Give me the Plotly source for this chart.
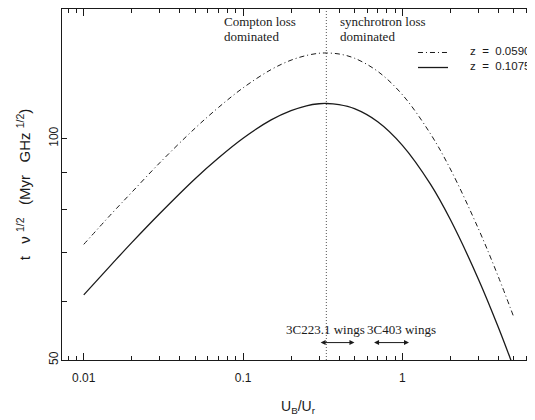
import numpy as np
import plotly.graph_objects as go

# ---- data ----
u_ratio = [0.01, 0.015, 0.02, 0.03, 0.05, 0.07, 0.1, 0.15, 0.2, 0.25, 0.3, 0.333,
           0.4, 0.5, 0.7, 1.0, 1.5, 2.0, 3.0, 4.0, 5.0]
t_z0590 = [71.8, 79.1, 84.5, 92.7, 103.3, 110.2, 117.2, 124.1, 127.8, 129.7, 130.6, 130.7,
           130.3, 128.6, 123.4, 114.7, 101.5, 90.9, 75.4, 64.9, 57.2]
t_z1075 = [61.3, 67.5, 72.2, 79.1, 88.2, 94.1, 100.1, 106.0, 109.1, 110.8, 111.5, 111.6,
           111.2, 109.8, 105.4, 97.9, 86.7, 77.6, 64.4, 55.4, 48.8]
series_names = ["z\u00a0 =\u00a0 0.0590", "z\u00a0 =\u00a0 0.1075"]
series_dash = ["5px,3px,1px,3px", "solid"]
series_width = [1.0, 1.3]

crossover = 1.0 / 3.0                  # U_B/U_r where the loss regimes swap
regime_lines = [["Compton loss", "dominated"], ["synchrotron loss", "dominated"]]
regime_text_x = [0.0733, 0.394]
wing_names = ["3C223.1 wings", "3C403 wings"]
wing_lo = [0.30, 0.65]
wing_hi = [0.50, 1.10]
wing_level = 52.8
wing_text_x = [0.327, 0.98]
wing_text_level = 55.0

x_range = [0.0073, 6.7]
y_range = [50, 150]
x_tickvals = [0.01, 0.1, 1]
x_ticktext = ["0.01", "0.1", "1"]
x_minor = [0.008, 0.009] + [k * 0.01 for k in range(2, 10)] + [k * 0.1 for k in range(2, 10)] + [2, 3, 4, 5, 6]
y_tickvals = [50, 100]
y_ticktext = ["50", "100"]
y_minor = [60, 70, 80, 90]

SANS = "Liberation Sans, Arial, sans-serif"
SERIF = "Liberation Serif, Times New Roman, serif"
INK = "#1a1a1a"

fig = go.Figure()

fig.add_trace(go.Scatter(
    x=[crossover, crossover], y=y_range, mode="lines",
    line=dict(color="#707070", width=1.2, dash="1px,2px"),
    showlegend=False, hoverinfo="skip"))

for yv, dash, w in zip([t_z0590, t_z1075], series_dash, series_width):
    fig.add_trace(go.Scatter(
        x=u_ratio, y=yv, mode="lines", showlegend=False,
        line=dict(color=INK, width=w, dash=dash, shape="spline")))

annotations = []
shapes = []

# region labels (one annotation per line to control line spacing)
line_y = [0.9644, 0.9217]
for lines, tx in zip(regime_lines, regime_text_x):
    for txt, py in zip(lines, line_y):
        annotations.append(dict(
            x=np.log10(tx), y=py, xref="x", yref="paper", xanchor="left", yanchor="middle",
            showarrow=False, text=txt, font=dict(family=SERIF, size=13, color=INK)))

# wing labels and arrows
for name, tx in zip(wing_names, wing_text_x):
    annotations.append(dict(
        x=np.log10(tx), y=np.log10(wing_text_level), xref="x", yref="y",
        showarrow=False, text=name, font=dict(family=SERIF, size=13, color=INK)))
for lo, hi in zip(wing_lo, wing_hi):
    annotations.append(dict(
        x=np.log10(hi), y=np.log10(wing_level), ax=np.log10(lo), ay=np.log10(wing_level),
        xref="x", yref="y", axref="x", ayref="y", text="", showarrow=True,
        arrowside="end+start", arrowhead=2, arrowsize=1, arrowwidth=1, arrowcolor=INK))

# key (drawn manually to match the compact key of the reference)
key_line_y = [0.8761, 0.8333]
for dash, w, ly in zip(series_dash, series_width, key_line_y):
    shapes.append(dict(type="line", xref="paper", yref="paper", x0=0.7542, x1=0.8178,
                       y0=ly, y1=ly, line=dict(color=INK, width=w, dash=dash)))
annotations.append(dict(
    x=0.9958, y=0.8584, xref="paper", yref="paper", xanchor="right", yanchor="middle",
    align="left", showarrow=False, text="<br>".join(series_names),
    font=dict(family=SANS, size=11.5, color=INK)))

fig.update_layout(
    width=527, height=412,
    margin=dict(l=54, r=1, t=1, b=60),
    paper_bgcolor="white", plot_bgcolor="white",
    font=dict(family=SANS, size=12, color=INK),
    showlegend=False,
    annotations=annotations,
    shapes=shapes,
    xaxis=dict(
        type="log", range=[np.log10(x_range[0]), np.log10(x_range[1])],
        tickmode="array", tickvals=x_tickvals, ticktext=x_ticktext,
        ticks="inside", ticklen=7, tickwidth=1, tickcolor=INK,
        showline=True, linecolor=INK, linewidth=1.2, mirror="allticks",
        showgrid=False, zeroline=False, ticklabelstandoff=6,
        minor=dict(tickmode="array", tickvals=x_minor, ticks="inside", ticklen=4,
                   tickcolor=INK, showgrid=False),
        title=dict(text="U<sub>B</sub>/U<sub>r</sub>", font=dict(family=SANS, size=14, color=INK),
                   standoff=17),
    ),
    yaxis=dict(
        type="log", range=[np.log10(y_range[0]), np.log10(y_range[1])],
        tickmode="array", tickvals=y_tickvals, ticktext=y_ticktext, tickangle=-90,
        ticks="inside", ticklen=5, tickwidth=1, tickcolor=INK,
        showline=True, linecolor=INK, linewidth=1.2, mirror="allticks",
        showgrid=False, zeroline=False, ticklabelstandoff=-2,
        minor=dict(tickmode="array", tickvals=y_minor, ticks="inside", ticklen=5,
                   tickcolor=INK, showgrid=False),
        title=dict(text="t\u00a0\u00a0\u00a0\u03bd\u00a0<sup>1/2</sup>\u00a0\u00a0\u00a0(Myr\u00a0\u00a0\u00a0GHz\u00a0<sup>1/2</sup>)",
                   font=dict(family=SANS, size=15, color=INK), standoff=12),
    ),
)

fig.write_html("out.html")
